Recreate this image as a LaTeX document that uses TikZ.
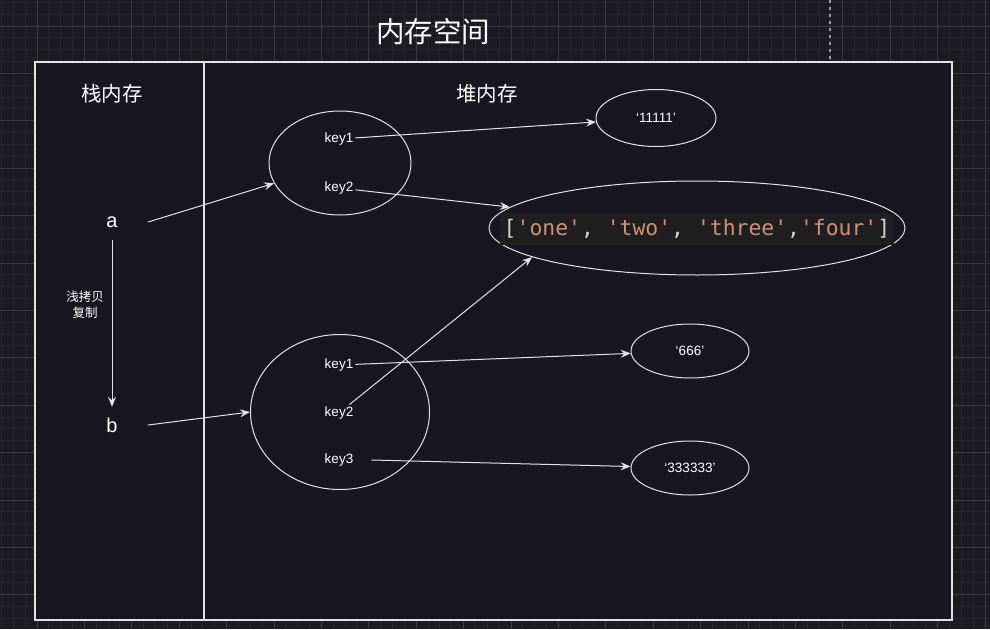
\documentclass[tikz,border=0pt]{standalone}
\usepackage{fontspec}
\setmainfont{Liberation Sans}
\newfontfamily\cjk{Noto Sans CJK SC}
\newfontfamily\codefont{DejaVu Sans Mono}
\usetikzlibrary{shapes.geometric, arrows.meta, positioning}
\definecolor{bgdark}{HTML}{1C1B22}
\definecolor{gridminor}{HTML}{26252C}
\definecolor{gridmajor}{HTML}{3B3A41}
\definecolor{panel}{HTML}{18161F}
\definecolor{linegray}{HTML}{E2E2E2}
\definecolor{codebg}{HTML}{1F1F1F}
\definecolor{codestr}{HTML}{CE9178}
\definecolor{codepun}{HTML}{D4D4D4}

\begin{document}
\begin{tikzpicture}[x=1pt, y=-1pt,
  frame/.style={draw=linegray, line width=1.4pt},
  oval/.style={ellipse, draw=linegray, line width=1pt},
  lbl/.style={text=white, font=\fontsize{13.5}{15}\selectfont, inner sep=2pt},
  head/.style={text=white, font=\cjk\fontsize{20.5}{22}\selectfont},
  var/.style={text=white, font=\fontsize{20}{22}\selectfont, minimum width=72pt, minimum height=36pt, inner sep=0pt},
  arrow/.style={-{Stealth[length=10pt, width=8pt, inset=3.5pt]}, draw=linegray, line width=1pt},
]
\useasboundingbox (0,0) rectangle (990,629);

% Background grid
\fill[bgdark] (0,0) rectangle (990,629);
\foreach \i in {0,...,83} \draw[gridminor, line width=1pt] (1.45+11.85*\i,0) -- ++(0,629);
\foreach \j in {0,...,53} \draw[gridminor, line width=1pt] (0,2.3+11.85*\j) -- ++(990,0);
\foreach \i in {0,...,20} \draw[gridmajor, line width=1pt] (37+47.4*\i,0) -- ++(0,629);
\foreach \j in {0,...,12} \draw[gridmajor, line width=1pt] (0,26+47.4*\j) -- ++(990,0);
\draw[gray!80, line width=1.5pt, dash pattern=on 3pt off 4pt] (830,0) -- (830,62);

% Frame
\draw[frame, fill=panel] (35,62) rectangle (952,620);
\draw[frame] (204,62) -- (204,620);

% Labels
\node[text=white, font=\cjk\fontsize{28.5}{30}\selectfont] (title) at (433,32) {内存空间};
\node[head] (stack) at (112,94) {栈内存};
\node[head] (heap) at (487,94) {堆内存};

% Variables
\node[var] (a) at (112,222) {a};
\node[var] (b) at (112,425) {b};
\node[lbl, font=\cjk\fontsize{12.5}{16}\selectfont, align=center] (copy) at (85,305) {浅拷贝\\复制};

% Objects
\node[oval, minimum width=142pt, minimum height=104pt] (obj1) at (340,163) {};
\node[lbl] (o1k1) at (339,139) {key1};
\node[lbl] (o1k2) at (339,188) {key2};
\node[oval, minimum width=179pt, minimum height=155pt] (obj2) at (340,412) {};
\node[lbl] (o2k1) at (339,365) {key1};
\node[lbl] (o2k2) at (339,413) {key2};
\node[lbl] (o2k3) at (339,460) {key3};

% Values
\node[oval, lbl, minimum width=120pt, minimum height=57pt] (v1) at (656,118) {‘11111’};
\node[oval, minimum width=416pt, minimum height=94pt] (arr) at (697,228) {};
\node[fill=codebg, inner sep=0pt, minimum height=32pt, minimum width=394pt, font=\codefont\fontsize{21.4}{24}\selectfont] (code) at (697,229)
  {\textcolor{codepun}{[}\textcolor{codestr}{'one'}\textcolor{codepun}{, }\textcolor{codestr}{'two'}\textcolor{codepun}{, }\textcolor{codestr}{'three'}\textcolor{codepun}{,}\textcolor{codestr}{'four'}\textcolor{codepun}{]}};
\node[oval, lbl, minimum width=118pt, minimum height=54pt] (v666) at (690,351) {‘666’};
\node[oval, lbl, minimum width=118pt, minimum height=54pt] (v333) at (690,468) {‘333333’};

% Arrows
\draw[arrow] (a) -- (b);
\draw[arrow] (a.east) -- (obj1);
\draw[arrow] (b.east) -- (obj2.west);
\draw[arrow] (o1k1) -- (v1);
\draw[arrow] (o1k2) -- (arr);
\draw[arrow] (o2k2) -- (arr.190);
\draw[arrow] (o2k1) -- (v666);
\draw[arrow] ([xshift=16pt]o2k3.east) -- (v333);

\end{tikzpicture}
\end{document}
